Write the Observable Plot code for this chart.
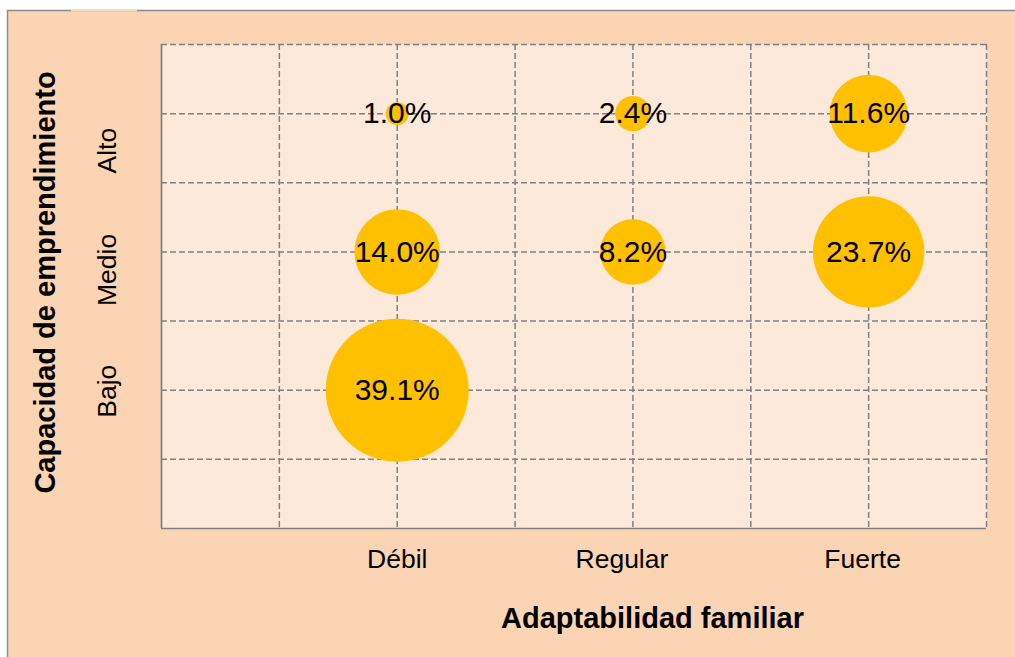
<!DOCTYPE html>
<html>
<head>
<meta charset="utf-8">
<script src="https://cdn.jsdelivr.net/npm/d3@7"></script>
<script src="https://cdn.jsdelivr.net/npm/@observablehq/plot@0.6"></script>
<style>
  html, body { margin: 0; padding: 0; background: #ffffff; }
  #chart { position: absolute; left: 0; top: 0; }
</style>
</head>
<body>
<div id="chart"></div>
<script>
// Categories
const adaptabilidad = ["Débil", "Regular", "Fuerte"];
const capacidad = ["Bajo", "Medio", "Alto"];
// Bubbles
const puntosAdapt = ["Débil", "Regular", "Fuerte", "Débil", "Regular", "Fuerte", "Débil"];
const puntosCap   = ["Alto",  "Alto",    "Alto",   "Medio", "Medio",   "Medio",  "Bajo"];
const porcentajes = [1.0, 2.4, 11.6, 14.0, 8.2, 23.7, 39.1];
// Grid ticks (half-category steps)
const gridTicks = [0.5, 1, 1.5, 2, 2.5, 3, 3.5];
// Titles
const tituloX = "Adaptabilidad familiar";
const tituloY = "Capacidad de emprendimiento";

const xIndex = c => adaptabilidad.indexOf(c) + 1;
const yIndex = c => capacidad.indexOf(c) + 1;
const data = porcentajes.map((v, i) => ({a: puntosAdapt[i], c: puntosCap[i], v}));

const font = "'Liberation Sans', Arial, Helvetica, sans-serif";
const gridColor = "#808080";
const yLabelShift = {Bajo: 1, Medio: 18, Alto: 37};
const xLabelShift = {"Débil": 0, "Regular": -11, "Fuerte": -6};

const chart = Plot.plot({
  width: 1015,
  height: 657,
  marginLeft: 161,
  marginRight: 29,
  marginTop: 44,
  marginBottom: 129,
  style: {fontFamily: font, fontSize: "26px", color: "#000", background: "transparent", overflow: "visible"},
  x: {domain: [0, 3.5], axis: null},
  y: {domain: [0, 3.5], axis: null},
  r: {type: "sqrt", domain: [0, 39.1], range: [0, 71.5]},
  marks: [
    Plot.frame({fill: "#FDE9D9", stroke: "none"}),
    Plot.gridX(gridTicks, {stroke: gridColor, strokeOpacity: 1, strokeWidth: 1.5, strokeDasharray: "6,3"}),
    Plot.gridY(gridTicks, {stroke: gridColor, strokeOpacity: 1, strokeWidth: 1.5, strokeDasharray: "6,3"}),
    Plot.ruleX([0], {stroke: gridColor, strokeWidth: 1.7}),
    Plot.ruleY([0], {stroke: gridColor, strokeWidth: 1.7}),
    Plot.dot(data, {x: d => xIndex(d.a), y: d => yIndex(d.c), r: "v", fill: "#FFC000", stroke: "none"}),
    Plot.text(data, {x: d => xIndex(d.a), y: d => yIndex(d.c), text: d => d.v.toFixed(1) + "%", fontSize: 30, fill: "#000"}),
    // x tick labels
    ...adaptabilidad.map((a, i) => Plot.text([a], {x: i + 1, frameAnchor: "bottom", lineAnchor: "middle", textAnchor: "middle", dx: xLabelShift[a], dy: 31, fontSize: 26.5, fill: "#000"})),
    // y tick labels
    ...capacidad.map((c, i) => Plot.text([c], {y: i + 1, frameAnchor: "left", textAnchor: "middle", lineAnchor: "middle", dx: -54, dy: yLabelShift[c], rotate: -90, fontSize: 26.5, fill: "#000"})),
    // axis titles
    Plot.text([tituloX], {frameAnchor: "bottom", textAnchor: "middle", lineAnchor: "middle", dx: 78.5, dy: 90, fontSize: 29, fontWeight: "bold", fill: "#000"}),
    Plot.text([tituloY], {frameAnchor: "left", textAnchor: "middle", lineAnchor: "middle", dx: -116, dy: -4, rotate: -90, fontSize: 29, fontWeight: "bold", fill: "#000"})
  ]
});

const svg = d3.select(chart);
const bg = svg.insert("g", ":first-child");
bg.append("rect")
  .attr("x", 7.5).attr("y", 10.5).attr("width", 1100).attr("height", 700)
  .attr("fill", "#FBD4B4").attr("stroke", "#8c8c8c").attr("stroke-width", 1.5);
bg.append("line")
  .attr("x1", 71).attr("x2", 137).attr("y1", 10.5).attr("y2", 10.5)
  .attr("stroke", "#F7DCC6").attr("stroke-width", 1.5);

document.getElementById("chart").appendChild(chart);
</script>
</body>
</html>
